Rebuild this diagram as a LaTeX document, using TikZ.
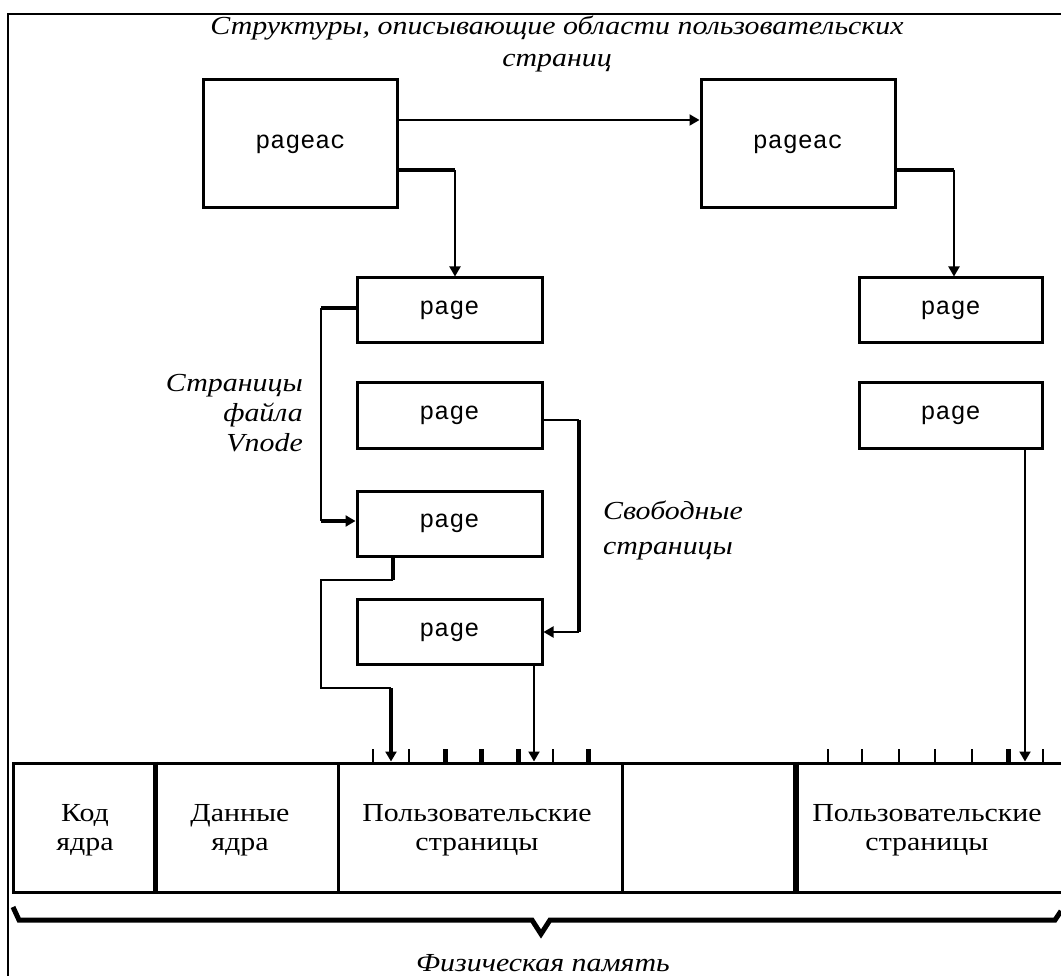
\documentclass[tikz,border=0pt]{standalone}
\usepackage{fontspec}
\setmainfont{Liberation Serif}
\newfontfamily\monof{Liberation Mono}
\newfontfamily\widef{Liberation Serif}[FakeStretch=1.15]
\usetikzlibrary{arrows.meta}
\tikzset{
  box/.style={draw, line width=3pt, inner sep=0pt, minimum height=65pt, minimum width=185pt,
    font=\monof\fontsize{25}{25}\selectfont},
  bigbox/.style={box, minimum height=128pt, minimum width=194pt},
  cell/.style={draw, line width=3pt, inner sep=0pt, minimum height=129pt, align=center,
    font=\widef\fontsize{26}{29}\selectfont},
  conn/.style={line width=2pt},
  thk/.style={line width=4.5pt},
  arr/.style={-{Triangle[width=11pt,length=10pt]}},
  tick/.style={line width=2pt},
  tickb/.style={line width=5pt},
  lbl/.style={font=\widef\itshape\fontsize{26}{30}\selectfont, inner sep=0pt}
}
\begin{document}
\begin{tikzpicture}[x=1pt,y=-1pt]
\useasboundingbox (0,0) rectangle (1061,976);
\fill[white] (0,0) rectangle (1061,976);
% outer frame (only left and top visible)
\draw[line width=2pt] (8,976) -- (8,14) -- (1066,14);

% title
\node[lbl, align=center, font=\widef\itshape\fontsize{26}{32}\selectfont] (title) at (557,44) {Структуры, описывающие области пользовательских\\страниц};

% boxes
\node[bigbox] (pa1) at (300.5,144) {pageac};
\node[bigbox] (pa2) at (798,144) {pageac};
\node[box] (p1) at (449.5,310.5) {page};
\node[box] (p2) at (449.5,415.5) {page};
\node[box] (p3) at (449.5,523.5) {page};
\node[box] (p4) at (449.5,632) {page};
\node[box, minimum width=183pt] (r1) at (950.5,310.5) {page};
\node[box, minimum width=183pt] (r2) at (950.5,415.5) {page};

% memory cells
\node[cell, minimum width=140.5pt] (kod) at (83.75,827.5) {};
\node[cell, minimum width=184pt] (dan) at (246,827.5) {};
\node[cell, minimum width=284pt] (u1) at (480,827.5) {};
\node[cell, minimum width=175pt] (emp) at (709.5,827.5) {};
\node[cell, minimum width=269pt] (u2) at (931.5,827.5) {};
\draw[line width=5pt] (kod.north east) -- (kod.south east);
\draw[line width=6pt] (u2.north west) -- (u2.south west);
\node[cell, draw=none, minimum height=0pt] (tkod) at (85,830) {Код\\ядра};
\node[cell, draw=none, minimum height=0pt] (tdan) at (240,830) {Данные\\ядра};
\node[cell, draw=none, minimum height=0pt] (tu1) at (477,830) {Пользовательские\\страницы};
\node[cell, draw=none, minimum height=0pt] (tu2) at (927,830) {Пользовательские\\страницы};

% labels
\node[lbl, align=right, anchor=east] (lvn) at (303,413) {Страницы\\файла\\Vnode};
\node[lbl, align=left, anchor=west, font=\widef\itshape\fontsize{26}{35}\selectfont] (lfree) at (603,530) {Свободные\\страницы};
\node[lbl] (lphys) at (543,963) {Физическая память};

% pageac1 -> pageac2
\draw[conn,arr] ([yshift=24pt]pa1.east) -- ([yshift=24pt]pa2.west);

% pageac1 -> page1
\coordinate (b1) at ([yshift=-26pt]pa1.east);
\coordinate (b2) at ([xshift=5.5pt]p1.north);
\draw[thk] (b1) -- (b1 -| b2);
\draw[conn,arr] (b1 -| b2) -- (b2);

% pageac2 -> right page1
\coordinate (h1) at ([yshift=-26pt]pa2.east);
\coordinate (h2) at ([xshift=3.5pt]r1.north);
\draw[thk] (h1) -- (h1 -| h2);
\draw[conn,arr] (h1 -| h2) -- (h2);

% page1 -> page3 (Vnode list)
\coordinate (cx) at (321,0);
\coordinate (c1) at ([yshift=2.5pt]p1.west);
\coordinate (c3) at ([yshift=2.5pt]p3.west);
\draw[thk] (c1) -- (c1 -| cx);
\draw[line width=2.7pt] (c1 -| cx) -- (c3 -| cx);
\draw[thk,arr] (c3 -| cx) -- (c3);

% page2 -> page4 (free list)
\coordinate (dx) at (579,0);
\coordinate (d1) at ([yshift=-4.5pt]p2.east);
\coordinate (d4) at (p4.east);
\draw[conn] (d1) -- (d1 -| dx);
\draw[thk] (d1 -| dx) -- (d4 -| dx);
\draw[conn,arr] (d4 -| dx) -- (d4);

% page3 -> memory
\coordinate (e1) at ([xshift=-56.5pt]p3.south);
\coordinate (e2) at (393,580);
\coordinate (e3) at (321,688);
\coordinate (e4) at (391,688);
\draw[thk] (e1) -- (e1 |- e2);
\draw[conn] (e1 |- e2) -- (e3 |- e2) -- (e3) -- (e4);
\draw[thk,arr] (e4) -- (e4 |- u1.north);

% page4 -> memory
\coordinate (f1) at ([xshift=84.5pt]p4.south);
\draw[conn,arr] (f1) -- (f1 |- u1.north);

% right page2 -> memory
\coordinate (g1) at ([xshift=74.5pt]r2.south);
\draw[conn,arr] (g1) -- (g1 |- u2.north);

% ticks
\foreach \x in {373,409,553} \draw[tick] (\x,749) -- (\x,763);
\foreach \x in {445,481,518,588} \draw[tickb] (\x,749) -- (\x,763);
\foreach \x in {828,862,899,935,972,1043} \draw[tick] (\x,749) -- (\x,763);
\foreach \x in {1008} \draw[tickb] (\x,749) -- (\x,763);

% brace
\draw[line width=5pt, line join=miter] (13,907) -- (19,920) -- (532,920) -- (541,934) -- (550,920) -- (1055,920) -- (1061,911);
\end{tikzpicture}
\end{document}
